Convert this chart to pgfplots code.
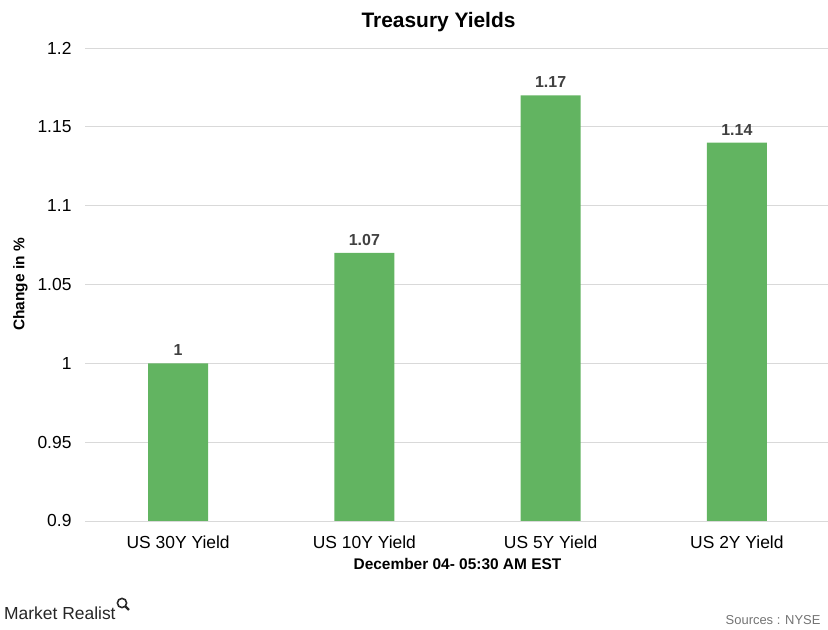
\documentclass[border=0pt]{standalone}
\usepackage{pgfplots}
\pgfplotsset{compat=1.18}
\usepackage{fontspec}
\setmainfont{Liberation Sans}
\definecolor{bargreen}{HTML}{62B461}
\definecolor{gridgray}{HTML}{D9D9D9}
\definecolor{labgray}{HTML}{404040}
\begin{document}
\begin{tikzpicture}[x=1bp,y=1bp]
\path[use as bounding box] (0,0) rectangle (828,630);
\begin{axis}[
  at={(85bp,109bp)}, anchor=south west,
  scale only axis, width=745bp, height=473bp,
  ybar, bar width=60bp,
  xmin=-0.5, xmax=3.5, ymin=0.9, ymax=1.2,
  xtick=data,
  xticklabels={US 30Y Yield, US 10Y Yield, US 5Y Yield, US 2Y Yield},
  ytick={0.9,0.95,1,1.05,1.1,1.15,1.2},
  yticklabels={0.9,0.95,1,1.05,1.1,1.15,1.2},
  axis line style={draw=none},
  major tick length=0pt,
  ymajorgrids, grid style={gridgray, line width=0.8bp},
  ticklabel style={font=\fontsize{17.5}{19}\selectfont, text=black},
  yticklabel style={xshift=-10bp},
  xticklabel style={yshift=-11bp},
  xlabel={\bfseries December 04- 05:30 AM EST},
  xlabel style={font=\fontsize{15.5}{17}\selectfont, yshift=-3bp},
  ylabel={\bfseries Change in \%},
  ylabel style={font=\fontsize{15.5}{17}\selectfont, yshift=3bp},
  title={\bfseries Treasury Yields},
  title style={font=\fontsize{21}{23}\selectfont, yshift=7bp, xshift=-19bp},
  nodes near coords,
  nodes near coords style={font=\bfseries\fontsize{16}{18}\selectfont, text=labgray, yshift=4bp},
  point meta=explicit symbolic,
  clip=false,
]
\addplot[fill=bargreen, draw=none] coordinates {
  (0,1.00) [1]
  (1,1.07) [1.07]
  (2,1.17) [1.17]
  (3,1.14) [1.14]
};
\end{axis}
\node[anchor=west, text=black!85, font=\fontsize{17.5}{19}\selectfont, inner sep=0pt] at (4,17) {Market Realist};
\begin{scope}[shift={(122,27)}]
\draw[black!85, line width=1.6bp] (0,0) circle (4.6);
\draw[black!85, line width=2.2bp] (3.2,-3.2) -- (7,-7);
\end{scope}
\node[anchor=east, text=black!55, font=\fontsize{13}{15}\selectfont] at (824,10) {Sources : NYSE};
\end{tikzpicture}
\end{document}
